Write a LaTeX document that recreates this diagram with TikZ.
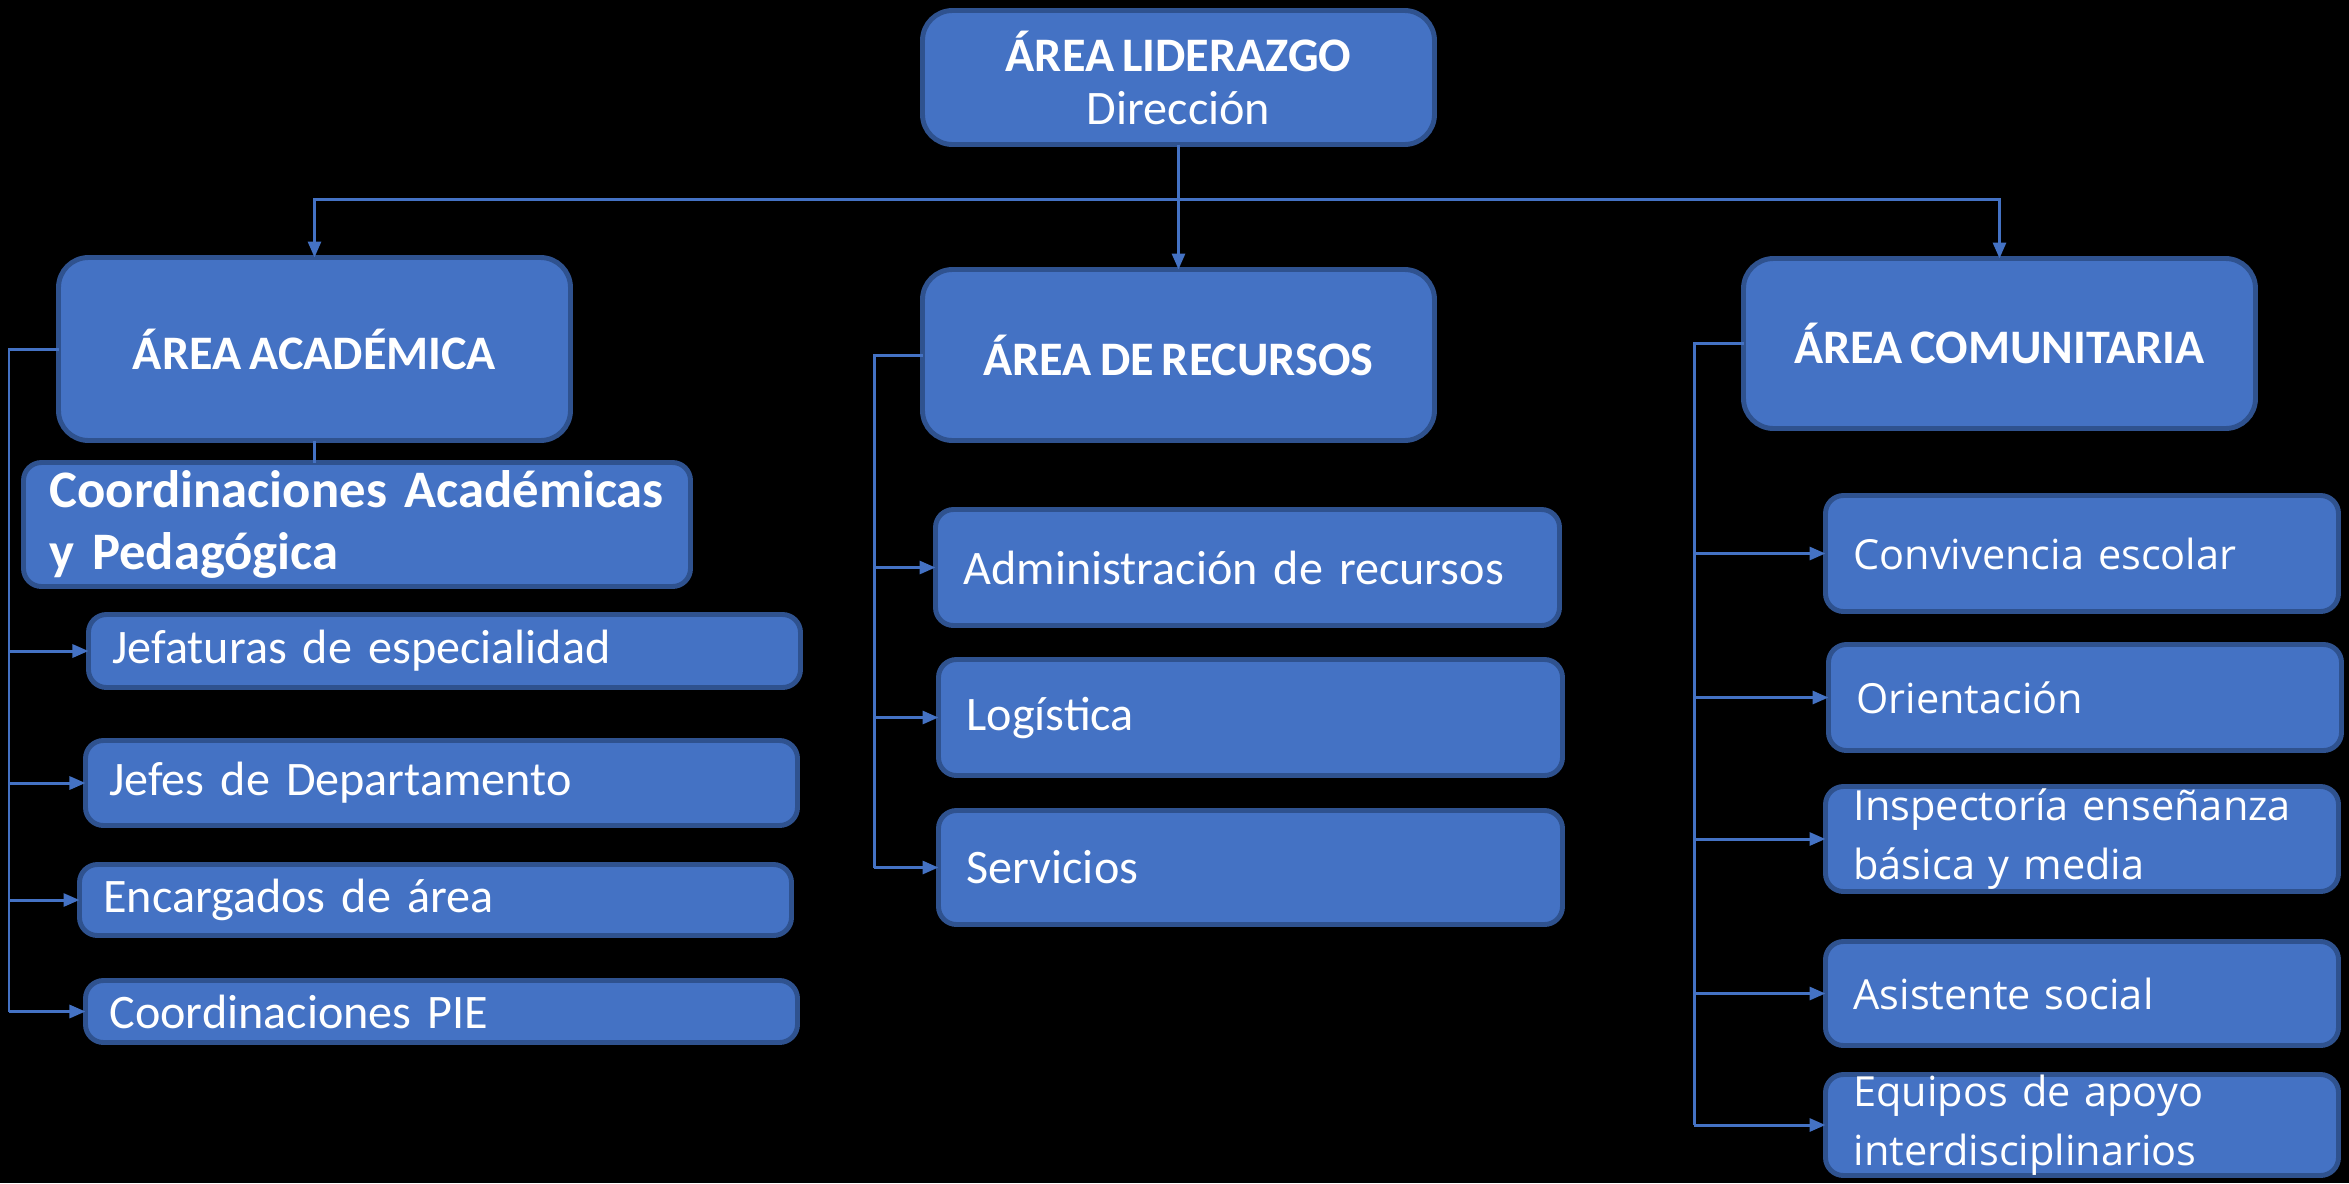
\documentclass[tikz,border=0pt]{standalone}
\usepackage{fontspec}
\setmainfont{Carlito}[WordSpace=0.75]
\newfontfamily\segoefont{Open Sans}
\usetikzlibrary{arrows.meta}
\definecolor{boxfill}{HTML}{4472C4}
\definecolor{boxline}{HTML}{2F528F}

\begin{document}
\begin{tikzpicture}[
  box/.style={draw=boxline, fill=boxfill, line width=1.4pt, text=white, rounded corners=0.18cm, anchor=north west, inner sep=0pt, outer sep=0pt},
  area/.style={box, rounded corners=0.3cm, minimum width=5.12cm, align=center, font=\fontsize{13.7}{16.5}\selectfont\bfseries},
  itemacad/.style={box, minimum height=#1, text width=6.64cm, inner xsep=0.24cm, align=left, font=\fontsize{13.7}{16.5}\selectfont},
  itemrec/.style={box, minimum height=#1, text width=5.68cm, inner xsep=0.28cm, align=left, font=\fontsize{13.7}{16.5}\selectfont},
  itemcom/.style={box, minimum height=#1, text width=4.57cm, inner xsep=0.28cm, align=left, font=\segoefont\fontsize{11.8}{16.8}\selectfont},
  link/.style={draw=boxfill, line width=0.85pt},
  arr/.style={link, -{Triangle[length=0.16cm, width=0.13cm]}}
]
\fill[black] (0,0) rectangle (23.49,-11.83);
\useasboundingbox (0,0) rectangle (23.49,-11.83);

% top level
\node[area, minimum height=1.34cm] (lid) at (9.225,-0.105) {ÁREA LIDERAZGO\\[-0.05cm]{\mdseries Dirección}};

% areas
\node[area, minimum height=1.83cm] (acad) at (0.585,-2.575) {ÁREA ACADÉMICA};
\node[area, minimum height=1.71cm] (rec) at (9.225,-2.695) {ÁREA DE RECURSOS};
\node[area, minimum height=1.70cm] (com) at (17.435,-2.585) {ÁREA COMUNITARIA};

% academic area
\node[box, minimum height=1.24cm, text width=6.15cm, inner xsep=0.26cm, align=left, font=\fontsize{15}{17.9}\selectfont\bfseries] (coord) at (0.235,-4.625) {Coordinaciones Académicas\\y Pedagógica};
\node[itemacad=0.73cm] (jef) at (0.885,-6.145) {Jefaturas de especialidad};
\node[itemacad=0.85cm] (jefes) at (0.855,-7.405) {Jefes de Departamento};
\node[itemacad=0.71cm] (enc) at (0.795,-8.645) {Encargados de área};
\node[itemacad=0.62cm] (pie) at (0.855,-9.805) {Coordinaciones PIE};

% resources area
\node[itemrec=1.16cm] (adm) at (9.355,-5.095) {Administración de recursos};
\node[itemrec=1.16cm] (log) at (9.385,-6.595) {Logística};
\node[itemrec=1.14cm] (serv) at (9.385,-8.105) {Servicios};

% community area
\node[itemcom=1.16cm] (conv) at (18.255,-4.955) {Convivencia escolar};
\node[itemcom=1.06cm] (ori) at (18.285,-6.445) {Orientación};
\node[itemcom=1.05cm] (insp) at (18.255,-7.865) {Inspectoría enseñanza\\básica y media};
\node[itemcom=1.04cm] (asis) at (18.255,-9.415) {Asistente social};
\node[itemcom=1.01cm] (equ) at (18.255,-10.745) {Equipos de apoyo\\interdisciplinarios};

% connectors
\coordinate (bus) at ([yshift=-0.55cm]lid.south);
\draw[link] (lid.south) -- (bus);
\draw[arr] (bus) -| (acad.north);
\draw[arr] (bus) -- (bus -| rec.north) -- (rec.north);
\draw[arr] (bus) -| (com.north);

\coordinate (acadbus) at (0.09,-3.49);
\draw[link] (acad.south) -- (acad.south |- coord.north);
\draw[link] (acad.west) -| (acadbus |- pie.west);
\foreach \n in {jef,jefes,enc,pie}
  \draw[arr] (acadbus |- \n.west) -- (\n.west);

\coordinate (recbus) at (8.74,-3.55);
\draw[link] (rec.west) -| (recbus |- serv.west);
\foreach \n in {adm,log,serv}
  \draw[arr] (recbus |- \n.west) -- (\n.west);

\coordinate (combus) at (16.94,-3.435);
\draw[link] (com.west) -| (combus |- equ.west);
\foreach \n in {conv,ori,insp,asis,equ}
  \draw[arr] (combus |- \n.west) -- (\n.west);

\end{tikzpicture}
\end{document}
